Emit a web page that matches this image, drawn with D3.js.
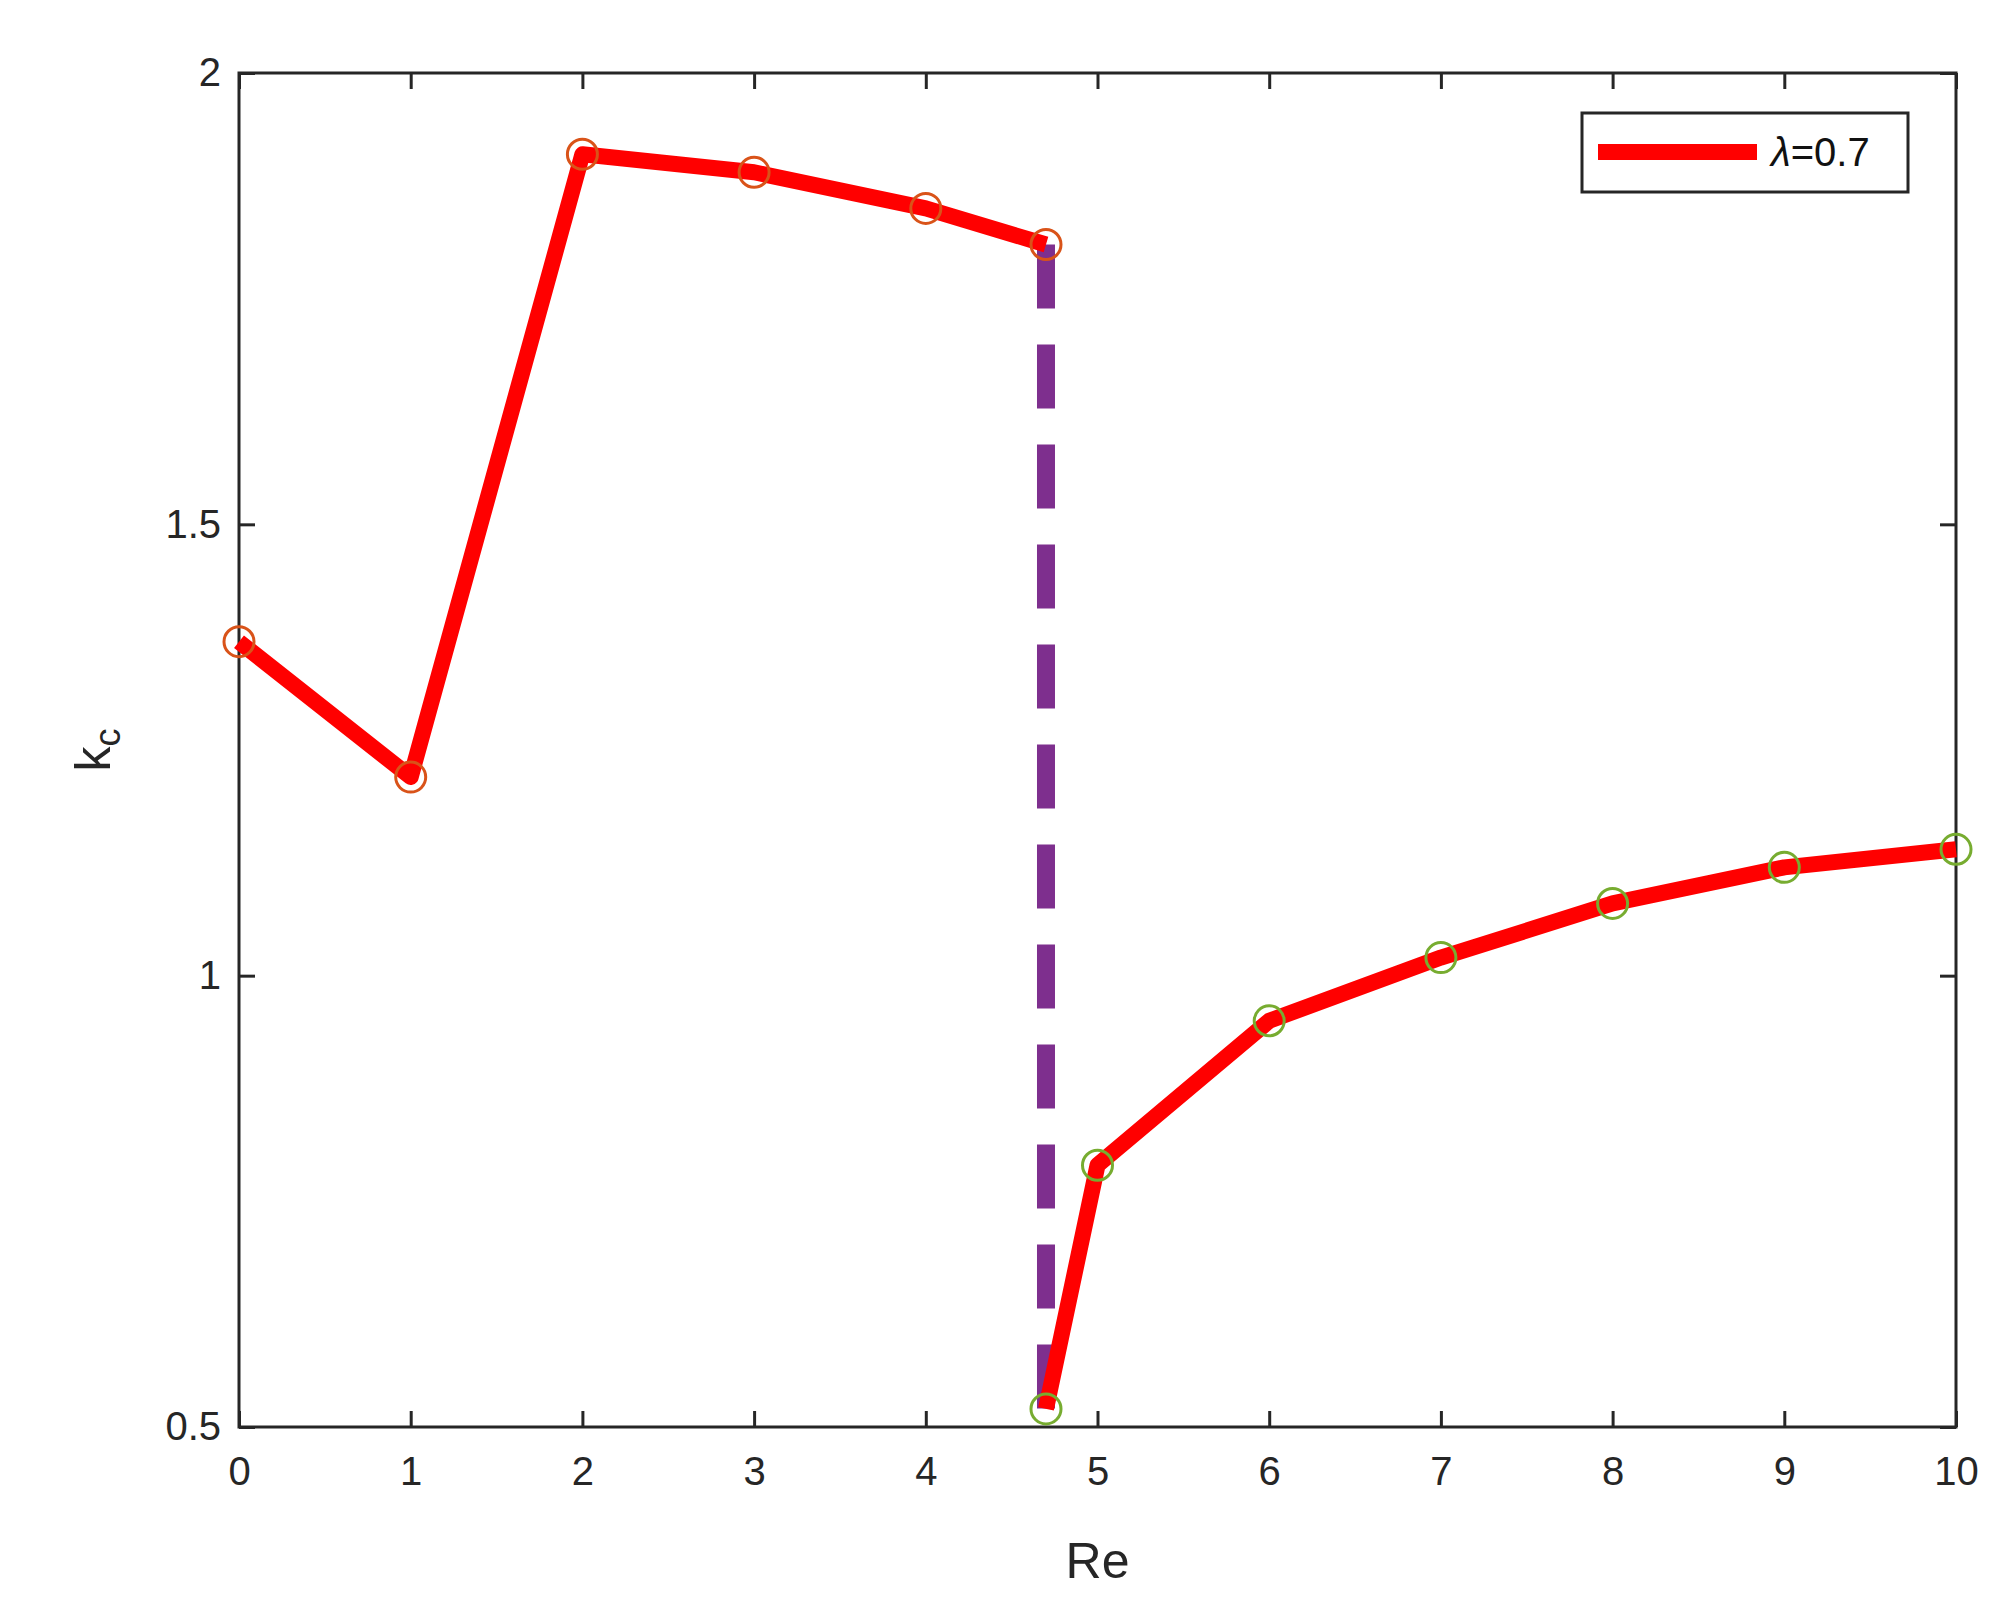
<!DOCTYPE html><html><head><script src="https://d3js.org/d3.v7.min.js"></script>
<style>body{margin:0;background:#fff}text{font-family:"Liberation Sans",Arial,sans-serif;fill:#262626}</style></head><body><script>
const reA=[0,1,2,3,4,4.7], kcA=[1.37,1.22,1.91,1.89,1.85,1.81];
const reB=[4.7,5,6,7,8,9,10], kcB=[0.52,0.79,0.95,1.02,1.08,1.12,1.14];
const xTicks=[0,1,2,3,4,5,6,7,8,9,10], yTicks=[0.5,1,1.5,2];
const W=2006,H=1600,L=239,R=1956,T=73,B=1427;
const svg=d3.select("body").append("svg").attr("width",W).attr("height",H);
const x=d3.scaleLinear().domain([0,10]).range([L,R]);
const y=d3.scaleLinear().domain([0.5,2]).range([B,T]);
const ax=(g,a)=>{g.call(a);g.select(".domain").remove();g.selectAll("line").attr("stroke","#262626").attr("stroke-width",3);g.selectAll("text").attr("font-size",40).style("fill","#262626");};
svg.append("g").attr("transform",`translate(0,${B})`).call(g=>ax(g,d3.axisBottom(x).tickValues(xTicks).tickSize(-16).tickPadding(30).tickFormat(d3.format("d"))));
svg.append("g").attr("transform",`translate(0,${T})`).call(g=>ax(g,d3.axisTop(x).tickValues(xTicks).tickSize(-16).tickFormat("")));
svg.append("g").attr("transform",`translate(${L},0)`).call(g=>ax(g,d3.axisLeft(y).tickValues(yTicks).tickSize(-16).tickPadding(18).tickFormat(d=>String(d))));
svg.append("g").attr("transform",`translate(${R},0)`).call(g=>ax(g,d3.axisRight(y).tickValues(yTicks).tickSize(-16).tickFormat("")));
svg.append("rect").attr("x",L).attr("y",T).attr("width",R-L).attr("height",B-T).attr("fill","none").attr("stroke","#262626").attr("stroke-width",3);
const line=d3.line().x(d=>x(d[0])).y(d=>y(d[1]));
svg.append("path").attr("d",line([[4.7,kcA[5]],[4.7,kcB[0]]])).attr("stroke","#7E2F8E").attr("stroke-width",18).attr("stroke-dasharray","64,36").attr("fill","none");
[[reA,kcA,"#D95319"],[reB,kcB,"#77AC30"]].forEach(([xs,ys,c])=>{
 const pts=xs.map((v,i)=>[v,ys[i]]);
 svg.append("path").attr("d",line(pts)).attr("stroke","#FF0000").attr("stroke-width",16).attr("fill","none").attr("stroke-linejoin","round");
 svg.selectAll(null).data(pts).enter().append("circle").attr("cx",d=>x(d[0])).attr("cy",d=>y(d[1])).attr("r",15).attr("fill","none").attr("stroke",c).attr("stroke-width",3);
});
svg.append("rect").attr("x",1582).attr("y",113).attr("width",326).attr("height",79).attr("fill","#fff").attr("stroke","#262626").attr("stroke-width",3);
svg.append("line").attr("x1",1598).attr("x2",1757).attr("y1",152).attr("y2",152).attr("stroke","#FF0000").attr("stroke-width",16);
svg.append("text").attr("x",1771).attr("y",166).attr("font-size",40).style("fill","#111").html('<tspan font-style="italic">λ</tspan>=0.7');
svg.append("text").attr("x",(L+R)/2).attr("y",1578).attr("text-anchor","middle").attr("font-size",50).text("Re");
svg.append("text").attr("transform",`translate(110,${(T+B)/2}) rotate(-90)`).attr("text-anchor","middle").attr("font-size",50).html('k<tspan font-size="36" dy="10">c</tspan>');
</script></body></html>
